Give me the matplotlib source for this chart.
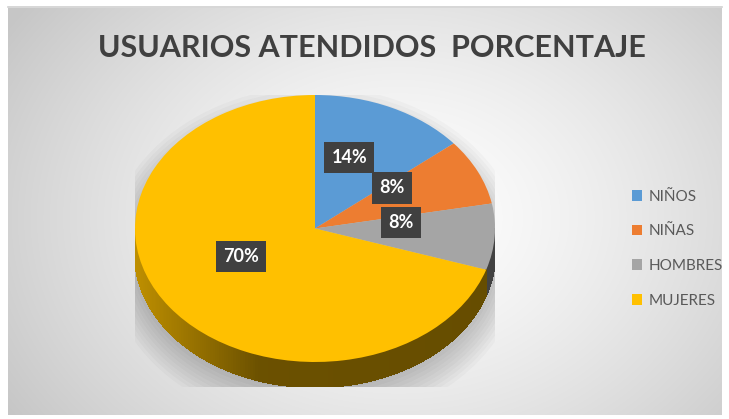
import numpy as np
import matplotlib.pyplot as plt
from matplotlib.patches import Polygon, Ellipse

categories = ['NIÑOS', 'NIÑAS', 'HOMBRES', 'MUJERES']
values = [14, 8, 8, 70]
colors = ['#5B9BD5', '#ED7D31', '#A5A5A5', '#FFC000']
title = 'USUARIOS ATENDIDOS  PORCENTAJE'

W, H = 729, 419
fig = plt.figure(figsize=(W / 100, H / 100), dpi=100)
fig.patch.set_facecolor('white')

# background with soft radial gradient
bg = fig.add_axes([8 / W, 4 / H, 714 / W, 407 / H])
yy, xx = np.mgrid[0:407, 0:714]
r = np.sqrt(((xx - 390) / 430) ** 2 + ((yy - 210) / 330) ** 2)
shade = np.clip(1 - 0.2 * r ** 1.4, 0.78, 1)
bg.imshow(np.dstack([shade] * 3), aspect='auto', extent=[0, 1, 0, 1])
bg.axis('off')
fig.add_artist(plt.Line2D([8 / W, 722 / W], [1 - 7 / H, 1 - 7 / H],
                          color='#d0d0d0', lw=1.2))

# pie axes: top face is an ellipse, side is extruded downward
depth = 25 / 133.5
ax = fig.add_axes([135 / W, (H - 387) / H, 360 / W, 292 / H])
ax.set_xlim(-1, 1)
ax.set_ylim(-1 - depth, 1)

# soft shadow
for k in range(10):
    ax.add_patch(Ellipse((0, -depth - 0.02), 2 + 0.035 * k, 2 + 0.06 * k,
                         color='black', alpha=0.025, lw=0, zorder=0))

# side strips
fracs = np.array(values) / sum(values)
bounds = 90 - 360 * np.concatenate([[0], np.cumsum(fracs)])
for i, c in enumerate(colors):
    a0, a1 = bounds[i + 1], bounds[i]
    ts = np.linspace(a0, a1, 300)
    rgb = np.array(plt.matplotlib.colors.to_rgb(c))
    for t0, t1 in zip(ts[:-1], ts[1:]):
        tm = np.deg2rad((t0 + t1) / 2) % (2 * np.pi)
        if np.sin(tm) > 0.0:
            continue
        cx = np.cos(tm)
        f = np.interp(cx, [-1, -0.3, 1], [0.75, 0.42, 0.40])
        r0, r1 = np.deg2rad(t0), np.deg2rad(t1)
        pts = [(np.cos(r0), np.sin(r0)), (np.cos(r1), np.sin(r1)),
               (np.cos(r1), np.sin(r1) - depth), (np.cos(r0), np.sin(r0) - depth)]
        ax.add_patch(Polygon(pts, closed=True, fc=rgb * f, ec=rgb * f, lw=1.0,
                             antialiased=False, zorder=1))

wedges, texts, autotexts = ax.pie(values, colors=colors, startangle=90, counterclock=False,
                                  autopct='%1.0f%%', radius=1, center=(0, 0),
                                  wedgeprops=dict(linewidth=0, zorder=2), frame=True)
ax.set_aspect('auto')
ax.set_xlim(-1, 1)
ax.set_ylim(-1 - depth, 1)
ax.axis('off')

label_pos = [(0.19, 0.53), (0.43, 0.305), (0.48, 0.045), (-0.41, -0.21)]
for t, p in zip(autotexts, label_pos):
    t.set_position(p)
    t.set_family('Lato')
    t.set_weight('bold')
    t.set_fontsize(13)
    t.set_color('white')
    t.set_zorder(5)
    t.set_bbox(dict(boxstyle='square,pad=0.4', fc='#404040', ec='none'))

fig.text(372 / W, 1 - 48 / H, title, ha='center', va='center', fontsize=22,
         fontweight='bold', family='Lato', color='#404040')

fig.legend(wedges, categories, loc='upper left', bbox_to_anchor=(618 / W, 1 - 176 / H),
           frameon=False, prop={'family': 'Lato', 'size': 11}, labelcolor='#595959',
           handlelength=0.7, handleheight=0.7, handletextpad=0.4, labelspacing=1.35)

fig.savefig('out.png', dpi=100)
